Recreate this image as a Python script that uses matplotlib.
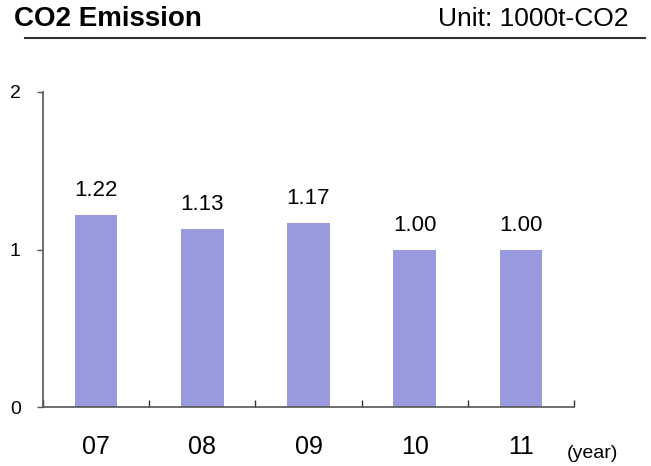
import matplotlib
matplotlib.use("Agg")
import matplotlib.pyplot as plt
from matplotlib.lines import Line2D

years = ["07", "08", "09", "10", "11"]
emission = [1.22, 1.13, 1.17, 1.00, 1.00]
yticks = [0, 1, 2]

plt.rcParams['font.family'] = ['Liberation Sans', 'DejaVu Sans']

W, H = 651, 466
fig = plt.figure(figsize=(W / 100, H / 100), dpi=100)
ax = fig.add_axes([43 / W, (H - 407) / H, (574 - 43) / W, (407 - 92) / H])

x = list(range(len(years)))
ax.bar(x, emission, width=0.4, color="#9999dd")

for i, v in zip(x, emission):
    ax.annotate(f"{v:.2f}", (i, v), xytext=(0, 10), textcoords="offset points",
                ha="center", va="bottom", fontsize=16)

ax.set_xlim(-0.5, len(years) - 0.5)
ax.set_ylim(0, 2)
ax.set_yticks(yticks)
ax.tick_params(axis="y", direction="out", length=4, width=1, color="#555555",
               labelsize=14, pad=12)

# tick marks at category boundaries, labels at centres
ax.set_xticks([i - 0.5 for i in range(len(years) + 1)])
ax.set_xticklabels([])
ax.set_xticks(x, minor=True)
ax.set_xticklabels(years, minor=True)
ax.tick_params(axis="x", which="major", direction="in", length=5, width=1, color="#333333")
ax.tick_params(axis="x", which="minor", length=0, labelsize=18, pad=20)

for s in ["top", "right"]:
    ax.spines[s].set_visible(False)
for s in ["left", "bottom"]:
    ax.spines[s].set_color("#555555")
    ax.spines[s].set_linewidth(1.2)

fig.text(567 / W, 1 - 453 / H, "(year)", fontsize=14, ha="left", va="center")

fig.text(14 / W, 1 - 19 / H, "CO2 Emission", fontsize=20, fontweight="bold",
         ha="left", va="center")
fig.text(629 / W, 1 - 19 / H, "Unit: 1000t-CO2", fontsize=19, ha="right", va="center")
fig.add_artist(Line2D([25 / W, 645 / W], [1 - 38 / H, 1 - 38 / H],
                      transform=fig.transFigure, color="#333333", lw=1.5))

fig.savefig("out.png", dpi=100)
